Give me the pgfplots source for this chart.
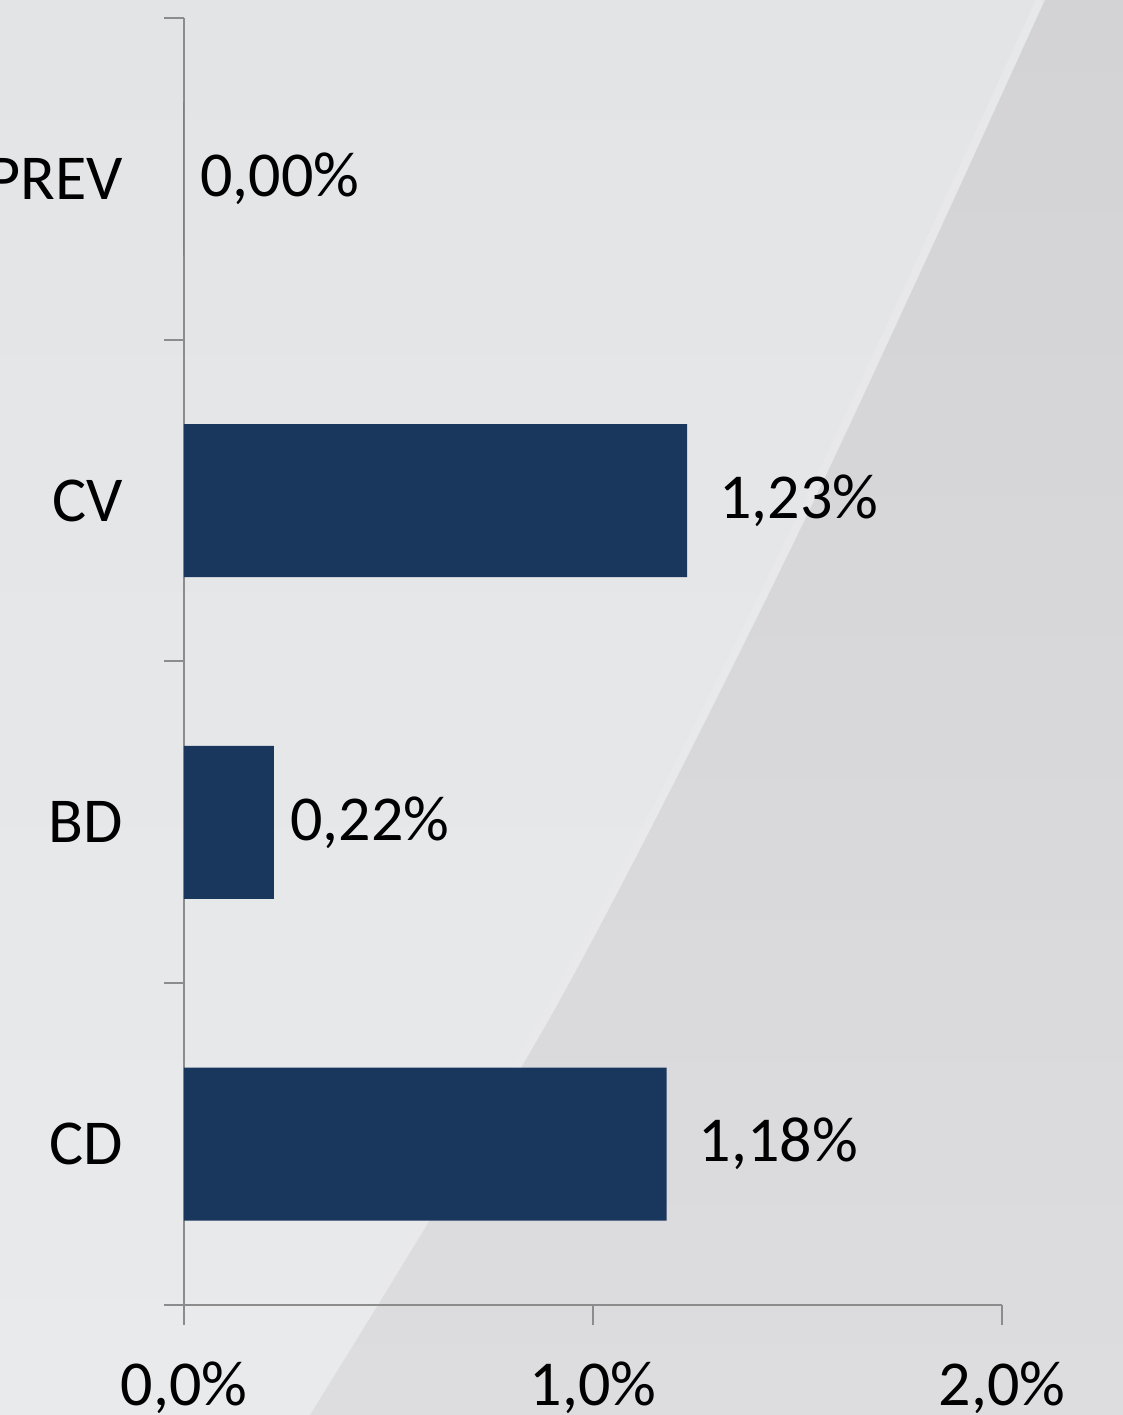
\documentclass[border=0pt]{standalone}
\usepackage{pgfplots}
\pgfplotsset{compat=1.18}
\usepackage{fontspec}
\setmainfont{Carlito}
\definecolor{barblue}{HTML}{19365C}
\definecolor{axgray}{HTML}{8C8C8C}
\definecolor{bgltop}{HTML}{E3E4E6}
\definecolor{bglbot}{HTML}{E9EAEC}
\definecolor{bgdtop}{HTML}{D3D3D5}
\definecolor{bgdbot}{HTML}{DDDDDF}
\definecolor{bghl}{HTML}{EAEAEC}
\begin{document}
\begin{tikzpicture}[x=1pt,y=1pt]
\useasboundingbox (-184,-110) rectangle (939,1305);
\clip (-184,-110) rectangle (939,1305);
\shade[top color=bgltop,bottom color=bglbot] (-184,-110) rectangle (939,1305);
\draw[bghl, line width=8pt, opacity=0.7] plot[smooth] coordinates {(121,-110) (371,305) (611,775) (856,1305)};
\shade[top color=bgdtop,bottom color=bgdbot] plot[smooth] coordinates {(126,-110) (376,305) (616,775) (861,1305)} -- (939,1305) -- (939,-110) -- cycle;
\begin{axis}[
  at={(0,0)}, anchor=south west,
  scale only axis, width=818pt, height=1287pt,
  xbar, bar width=153pt,
  xmin=0, xmax=2, ymin=-0.5, ymax=3.5,
  axis x line*=bottom, axis y line*=left,
  axis line style={axgray, line width=2pt},
  xtick={0,1,2}, xticklabels={{0,0\%},{1,0\%},{2,0\%}},
  ytick={-0.5,0.5,1.5,2.5,3.5}, yticklabels={},
  extra y ticks={0,1,2,3}, extra y tick labels={CD,BD,CV,PREV},
  extra y tick style={major tick length=0pt, y tick label style={anchor=east, inner sep=0pt, xshift=-61pt}},
  tick align=outside, major tick length=20pt,
  tick style={axgray, line width=2pt},
  x tick label style={anchor=north, inner sep=0pt, yshift=-37pt, font=\fontsize{64}{76}\selectfont},
  y tick label style={font=\fontsize{64}{76}\selectfont},
  nodes near coords={\pgfmathfloattofixed{\pgfplotspointmeta}\ifdim\pgfmathresult pt<1pt\else\hspace*{16pt}\fi\pgfmathprintnumber[fixed,fixed zerofill,precision=2,use comma,assume math mode=true]{\pgfplotspointmeta}\%},
  nodes near coords style={font=\fontsize{64}{76}\selectfont, anchor=west, inner sep=0pt, xshift=16pt, black},
]
\addplot[fill=barblue, draw=none] coordinates {(1.18,0) (0.22,1) (1.23,2) (0,3)};
\end{axis}
\end{tikzpicture}
\end{document}
